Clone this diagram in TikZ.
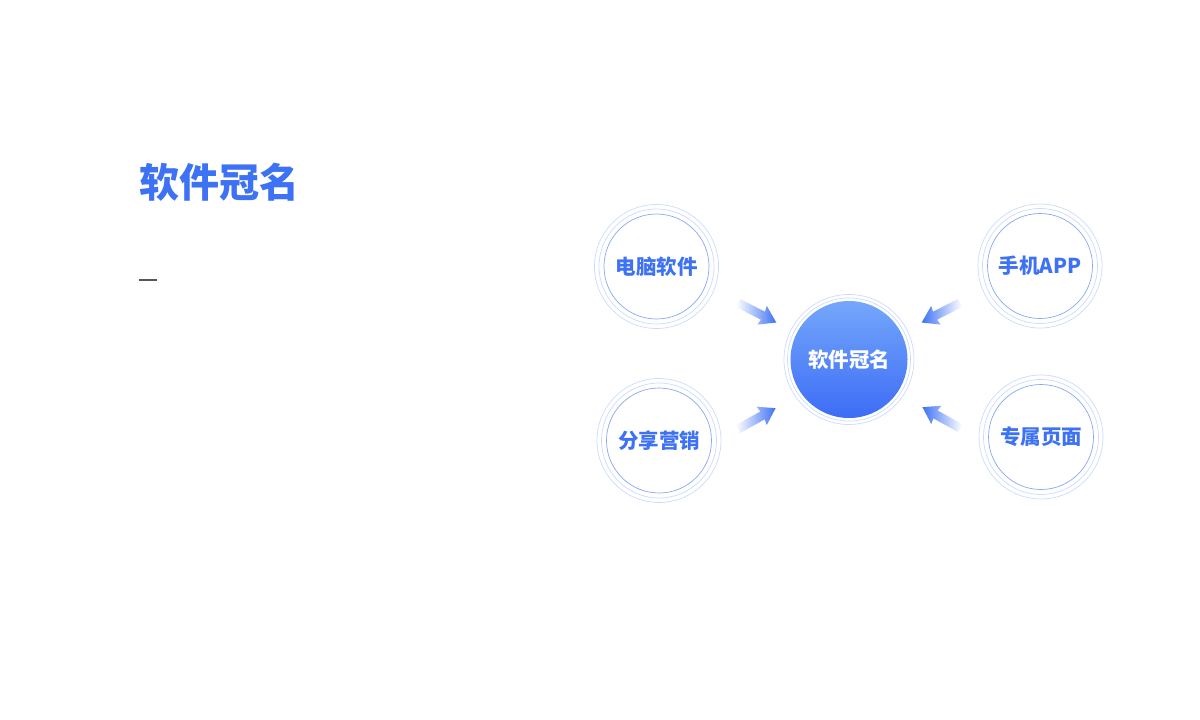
\documentclass[tikz,border=0pt]{standalone}
\usepackage{fontspec}
\setmainfont{Noto Sans CJK SC}
\definecolor{brand}{HTML}{3E72F4}
\definecolor{hubtop}{HTML}{74A7FB}
\definecolor{hubbot}{HTML}{3D6CF6}
\definecolor{ringdark}{HTML}{86A8F8}
\definecolor{ringlight}{HTML}{CCDBFD}
\definecolor{dashgray}{HTML}{555555}
\begin{document}
\begin{tikzpicture}[x=1pt,y=-1pt,
    leaf/.style={circle,draw=ringdark,line width=0.7pt,minimum size=105pt,inner sep=0pt,
      text=brand,font=\fontsize{20.5}{20.5}\selectfont\bfseries},
    hub/.style={circle,minimum size=117pt,inner sep=0pt,top color=hubtop,bottom color=hubbot,
      text=white,font=\fontsize{20.5}{20.5}\selectfont\bfseries},
    halo/.style={draw=ringlight,line width=0.7pt}]
  \useasboundingbox[fill=white] (0,0) rectangle (1200,720);
  % title
  \node[anchor=west,inner sep=0pt,text=brand,font=\fontsize{40}{40}\selectfont\bfseries]
    (title) at (139,182) {软件冠名};
  \draw[dashgray,line width=2pt] (139,280) -- (157,280);
  % nodes
  \node[hub] (hub) at (849,359.5) {软件冠名};
  \node[leaf] (pc) at (656.5,266.5) {电脑软件};
  \node[leaf] (share) at (659,440.5) {分享营销};
  \node[leaf] (app) at (1040,266) {手机APP};
  \node[leaf] (page) at (1041,437) {专属页面};
  % halos
  \draw[halo] (hub) circle (61.5) (hub) circle (65);
  \foreach \n in {pc,share,app,page}
    \draw[halo] (\n) circle (57.5) (\n) circle (62);
  % arrows
  \coordinate (tl) at (738,303);
  \coordinate (bl) at (738,429);
  \coordinate (tr) at (960,303);
  \coordinate (br) at (960,428);
  \foreach \c/\a/\lc/\rc in {tl/-27/white/brand,bl/29/white/brand,
                              tr/-153/brand/white,br/151/brand/white}{
    \begin{scope}[shift={(\c)},rotate=\a]
      \shade[left color=\lc,right color=\rc]
        (0,-4.5) -- (28,-4.5) -- (27,-10.5) -- (43,0) -- (27,10.5) -- (28,4.5) -- (0,4.5) -- cycle;
    \end{scope}
  }
\end{tikzpicture}
\end{document}
